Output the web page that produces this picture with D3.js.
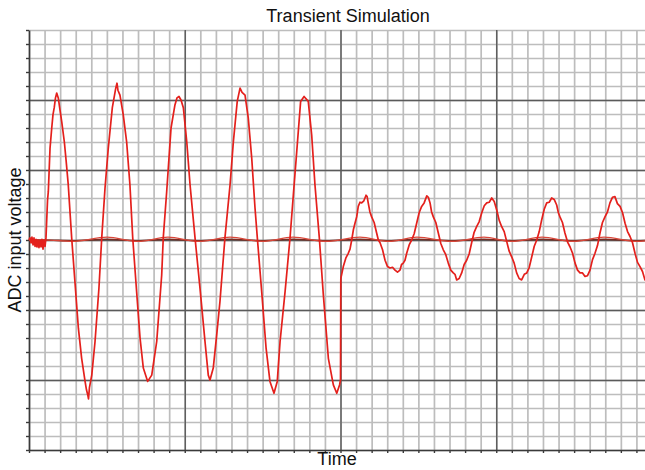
<!DOCTYPE html>
<html>
<head>
<meta charset="utf-8">
<script src="https://cdn.jsdelivr.net/npm/d3@7/dist/d3.min.js"></script>
<style>
  body { margin: 0; background: #fff; }
  text { font-family: "Liberation Sans", Arial, sans-serif; }
</style>
</head>
<body>
<script>
// ADC input (time in us, voltage in V)
var adcTime = [
  0, 0.06, 0.13, 0.19, 0.26, 0.32, 0.39, 0.45, 0.51, 0.58, 0.64, 0.71, 0.77, 0.83, 0.90, 0.96, 1.03, 1.09,
  1.19, 1.24, 1.35, 1.46, 1.54, 1.62, 1.70, 1.78, 1.88, 1.99, 2.10, 2.27, 2.38, 2.52, 2.74, 2.95, 3.17, 3.38,
  3.60, 3.69, 3.77, 3.82, 3.88, 4.03, 4.24, 4.49, 4.67, 4.88, 5.09, 5.35, 5.57, 5.65, 5.71, 5.84, 6.05, 6.27,
  6.48, 6.66, 6.91, 7.13, 7.34, 7.62, 7.88, 8.20, 8.52, 8.62, 8.84, 9.12, 9.37, 9.50, 9.63, 9.76, 9.91, 10.13,
  10.34, 10.66, 10.98, 11.30, 11.51, 11.62, 11.83, 12.05, 12.26, 12.58, 12.91, 13.12, 13.37, 13.55, 13.68, 13.87,
  14.08, 14.30, 14.51, 14.66, 14.94, 15.22, 15.47, 15.73, 15.94, 16.12, 16.44, 16.76, 16.97, 17.19, 17.44, 17.66,
  17.93, 18.15, 18.36, 18.64, 18.90, 19.22, 19.54, 19.76, 19.94, 20.00, 20.02,
  20.18, 20.34, 20.50, 20.61, 20.72, 20.83, 20.93, 21.04, 21.14, 21.25, 21.36, 21.50, 21.64, 21.71, 21.78, 21.89,
  22.00, 22.16, 22.32, 22.43, 22.54, 22.70, 22.86, 23.02, 23.18, 23.34, 23.50, 23.66, 23.82, 23.92, 24.03, 24.14,
  24.25, 24.41, 24.57, 24.73, 24.89, 25.05, 25.21, 25.37, 25.54, 25.64, 25.75, 25.85, 25.96, 26.12, 26.28, 26.44,
  26.60, 26.76, 26.92, 27.08, 27.24, 27.35, 27.46, 27.62, 27.78, 27.94, 28.10, 28.26, 28.42, 28.58, 28.74, 28.90,
  29.07, 29.23, 29.39, 29.55, 29.71, 29.87, 30.03, 30.19, 30.35, 30.51, 30.67, 30.83, 30.99, 31.15, 31.31, 31.47,
  31.63, 31.80, 31.96, 32.12, 32.28, 32.44, 32.60, 32.76, 32.92, 33.08, 33.24, 33.40, 33.56, 33.72, 33.88, 33.99,
  34.09, 34.25, 34.41, 34.58, 34.74, 34.90, 35.06, 35.22, 35.38, 35.54, 35.70, 35.86, 36.02, 36.18, 36.34, 36.50,
  36.66, 36.82, 36.98, 37.14, 37.30, 37.46, 37.62, 37.78, 37.95, 38.11, 38.27, 38.43, 38.59, 38.75, 38.91, 39.07,
  39.23, 39.39, 39.55, 40.00
];
var adcVolt = [
  0, 0.03, -0.04, 0.04, -0.07, 0.03, -0.09, 0.01, -0.10, 0, -0.11, -0.01, -0.10, 0.01, -0.13, 0, -0.09, 0.03,
  0.57, 0.69, 1.31, 1.60, 1.79, 1.89, 2.03, 2.10, 2.03, 1.86, 1.69, 1.40, 1.14, 0.79, 0.03, -0.60, -1.26, -1.69,
  -2.02, -2.14, -2.21, -2.27, -2.11, -1.93, -1.45, -0.69, 0.03, 0.74, 1.31, 1.89, 2.17, 2.24, 2.14, 2.07, 1.79, 1.40,
  0.79, 0.03, -0.74, -1.40, -1.83, -2.02, -1.93, -1.45, -0.50, 0.03, 0.69, 1.60, 1.93, 2.03, 2.05, 2.00, 1.89, 1.40,
  0.79, 0.03, -0.69, -1.45, -1.93, -2.00, -1.83, -1.36, -0.88, 0.03, 0.79, 1.40, 1.98, 2.17, 2.11, 2.07,
  1.74, 1.17, 0.46, 0.03, -0.74, -1.54, -2.02, -2.19, -2.02, -1.45, -0.74, 0.03, 0.64, 1.26, 1.98, 2.05,
  1.98, 1.50, 0.79, 0.03, -0.79, -1.69, -2.07, -2.19, -2.07, -2.00, -0.55,
  -0.38, -0.26, -0.19, -0.13, 0, 0.15, 0.24, 0.33, 0.48, 0.54, 0.53, 0.56, 0.64, 0.62, 0.53, 0.40,
  0.33, 0.25, 0.10, 0.00, -0.04, -0.14, -0.29, -0.38, -0.40, -0.39, -0.43, -0.46, -0.43, -0.35, -0.33, -0.29,
  -0.19, -0.07, 0, 0.09, 0.24, 0.39, 0.48, 0.53, 0.63, 0.61, 0.53, 0.40, 0.33, 0.25, 0.10, -0.05,
  -0.14, -0.21, -0.33, -0.43, -0.47, -0.49, -0.57, -0.55, -0.47, -0.35, -0.29, -0.20, -0.04, 0.11, 0.19, 0.26,
  0.39, 0.49, 0.53, 0.54, 0.60, 0.55, 0.43, 0.28, 0.19, 0.12, -0.02, -0.16, -0.24, -0.33, -0.47, -0.55,
  -0.57, -0.49, -0.47, -0.39, -0.24, -0.09, 0, 0.12, 0.29, 0.44, 0.53, 0.54, 0.60, 0.58, 0.50, 0.39,
  0.33, 0.25, 0.10, -0.03, -0.10, -0.19, -0.33, -0.43, -0.47, -0.47, -0.52, -0.51, -0.43, -0.28, -0.19, -0.08,
  0.10, 0.25, 0.33, 0.40, 0.53, 0.61, 0.62, 0.52, 0.48, 0.39, 0.24, 0.12, 0.05, -0.04, -0.19, -0.32,
  -0.38, -0.45, -0.57, -0.64
];

// small reference traces near 0 V
var refTime = [0, 1.0, 2.76, 5.01, 7.0, 8.92, 10.9, 12.91, 14.96, 16.95, 19.07, 21.25, 23.1, 24.91, 27.16, 29.21, 31.0, 32.94, 34.93, 36.92, 39.04, 40];
var refRed  = [0, 0, -0.02, 0.04, -0.02, 0.04, -0.02, 0.04, -0.02, 0.04, -0.02, 0.04, -0.02, 0.04, -0.02, 0.04, -0.02, 0.04, -0.02, 0.04, -0.02, 0];
var refDark = [0, 0, -0.01, 0.01, -0.01, 0.01, -0.01, 0.01, -0.01, 0.01, -0.01, 0.01, -0.01, 0.01, -0.01, 0.01, -0.01, 0.01, -0.01, 0.01, -0.01, 0];

var xMinor = d3.range(0, 41, 1);
var xMajor = [10, 20, 30, 40];
var yMinor = d3.range(-15, 16, 1).map(function (d) { return d / 5; });
var yMajor = [-2, -1, 0, 1, 2];

var width = 645, height = 470;
var margin = { top: 30, left: 29 };
var plotW = 623, plotH = 420;

var svg = d3.select("body").append("svg")
    .attr("width", width)
    .attr("height", height);

var x = d3.scaleLinear().domain([0, 40]).range([margin.left, margin.left + plotW]);
var y = d3.scaleLinear().domain([-3, 3]).range([margin.top + plotH, margin.top]);

// minor grid
svg.append("g")
    .attr("transform", "translate(0," + (margin.top + plotH) + ")")
    .call(d3.axisBottom(x).tickValues(xMinor).tickSize(-plotH).tickFormat(""))
    .call(function (g) { g.select(".domain").remove(); })
    .selectAll("line").attr("stroke", "#bdbdbd").attr("stroke-width", 1.7);

svg.append("g")
    .attr("transform", "translate(" + margin.left + ",0)")
    .call(d3.axisLeft(y).tickValues(yMinor).tickSize(-plotW).tickFormat(""))
    .call(function (g) { g.select(".domain").remove(); })
    .selectAll("line").attr("stroke", "#bdbdbd").attr("stroke-width", 1.7);

// major grid
svg.append("g")
    .attr("transform", "translate(0," + (margin.top + plotH) + ")")
    .call(d3.axisBottom(x).tickValues(xMajor).tickSize(-plotH).tickFormat(""))
    .call(function (g) { g.select(".domain").remove(); })
    .selectAll("line").attr("stroke", "#5a5a5a").attr("stroke-width", 1.4);

svg.append("g")
    .attr("transform", "translate(" + margin.left + ",0)")
    .call(d3.axisLeft(y).tickValues(yMajor).tickSize(-plotW).tickFormat(""))
    .call(function (g) { g.select(".domain").remove(); })
    .selectAll("line").attr("stroke", "#5a5a5a").attr("stroke-width", 1.4);

// axes with small ticks
var xAxis = svg.append("g")
    .attr("transform", "translate(0," + (margin.top + plotH) + ")")
    .call(d3.axisBottom(x).tickValues(xMinor).tickSize(3).tickSizeOuter(0).tickFormat(""));
var yAxis = svg.append("g")
    .attr("transform", "translate(" + margin.left + ",0)")
    .call(d3.axisLeft(y).tickValues(yMinor).tickSize(3).tickSizeOuter(0).tickFormat(""));
[xAxis, yAxis].forEach(function (g) {
  g.select(".domain").attr("stroke", "#3a3a3a").attr("stroke-width", 1.6);
  g.selectAll("line").attr("stroke", "#3a3a3a").attr("stroke-width", 1.4);
});

// traces
var smooth = d3.line()
    .x(function (d) { return x(d[0]); })
    .y(function (d) { return y(d[1]); })
    .curve(d3.curveMonotoneX);

svg.append("path")
    .datum(d3.zip(refTime, refDark))
    .attr("fill", "none")
    .attr("stroke", "#7a2c22")
    .attr("stroke-width", 1.6)
    .attr("d", smooth);

svg.append("path")
    .datum(d3.zip(refTime, refRed))
    .attr("fill", "none")
    .attr("stroke", "#d9473a")
    .attr("stroke-width", 1.2)
    .attr("d", smooth);

var line = d3.line()
    .x(function (d) { return x(d[0]); })
    .y(function (d) { return y(d[1]); });

svg.append("path")
    .datum(d3.zip(adcTime, adcVolt))
    .attr("fill", "none")
    .attr("stroke", "#e4201c")
    .attr("stroke-width", 1.7)
    .attr("stroke-linejoin", "round")
    .attr("d", line);

// text
svg.append("text")
    .attr("x", 348).attr("y", 22)
    .attr("text-anchor", "middle")
    .attr("font-size", 18)
    .attr("fill", "#111")
    .text("Transient Simulation");

svg.append("text")
    .attr("x", 337).attr("y", 465)
    .attr("text-anchor", "middle")
    .attr("font-size", 18)
    .attr("fill", "#111")
    .text("Time");

svg.append("text")
    .attr("transform", "translate(21,240) rotate(-90)")
    .attr("text-anchor", "middle")
    .attr("font-size", 18)
    .attr("fill", "#111")
    .text("ADC input voltage");
</script>
</body>
</html>
